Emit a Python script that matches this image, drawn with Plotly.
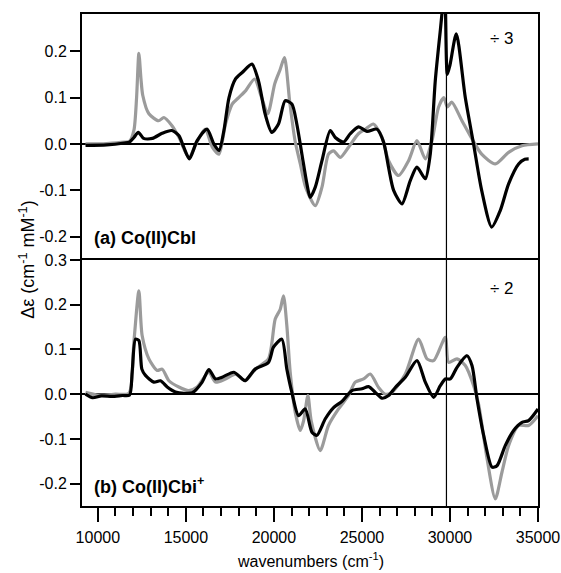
import plotly.graph_objects as go

# ---- data (wavenumber cm^-1, delta-epsilon) ----
a_grey_x = [9300, 9500, 10500, 11500, 11800, 12050, 12200, 12330, 12450, 12550, 12900, 13450, 13750, 14200, 14600, 15170, 15640, 16100, 16500, 16880, 17250, 17630, 18000, 18400, 18900, 19300, 19650, 20050, 20350, 20600, 20900, 21200, 21500, 21800, 22350, 22730, 23100, 23390, 23770, 24240, 24800, 25200, 25650, 26140, 26500, 27080, 27650, 28125, 28600, 28980, 29350, 29650, 29850, 30100, 30680, 31250, 31800, 32575, 33330, 34090, 35000]
a_grey_y = [0, 0, 0.001, 0.004, 0.006, 0.03, 0.1, 0.195, 0.14, 0.105, 0.065, 0.05, 0.057, 0.04, 0.015, -0.029, 0.005, 0.032, -0.007, -0.022, 0.043, 0.086, 0.1, 0.115, 0.14, 0.1, 0.065, 0.13, 0.16, 0.186, 0.09, 0.007, -0.043, -0.093, -0.133, -0.093, -0.022, -0.015, -0.029, -0.007, 0.022, 0.032, 0.043, 0.014, -0.035, -0.068, -0.036, 0.007, -0.032, 0.007, 0.079, 0.1, 0.08, 0.09, 0.05, 0.011, -0.022, -0.043, -0.018, -0.004, 0]

a_black_x = [9300, 10500, 11500, 11800, 12050, 12300, 12600, 13100, 13650, 14200, 14600, 14880, 15200, 15640, 16200, 16590, 16880, 17160, 17450, 17820, 18200, 18750, 19125, 19500, 19880, 20260, 20640, 21020, 21300, 21590, 21875, 22060, 22350, 22730, 23200, 23485, 23955, 24335, 24810, 25285, 25850, 26230, 26510, 26800, 27275, 27745, 28125, 28600, 28880, 29165, 29450, 29700, 29850, 30000, 30360, 30870, 31340, 31800, 32370, 32860, 33330, 33900, 34250, 34470]
a_black_y = [-0.003, -0.002, 0.002, 0.004, 0.014, 0.025, 0.012, 0.012, 0.023, 0.029, 0.018, -0.007, -0.032, 0.007, 0.032, 0.0, -0.014, 0.029, 0.1, 0.14, 0.154, 0.172, 0.136, 0.065, 0.025, 0.043, 0.093, 0.086, 0.043, -0.022, -0.086, -0.115, -0.093, -0.036, 0.029, 0.014, 0.004, 0.022, 0.037, 0.027, 0.032, 0.004, -0.05, -0.1, -0.129, -0.079, -0.05, -0.075, -0.022, 0.136, 0.244, 0.33, 0.15, 0.17, 0.237, 0.1, 0.0, -0.1, -0.179, -0.143, -0.086, -0.043, -0.033, -0.032]

b_grey_x = [9300, 10000, 11000, 11760, 12045, 12330, 12515, 12900, 13370, 13655, 14035, 14600, 15170, 15640, 16305, 16680, 17250, 17820, 18370, 18940, 19690, 20075, 20360, 20545, 20735, 20925, 21210, 21495, 21685, 21930, 22120, 22630, 23100, 23670, 24240, 24620, 25095, 25475, 25945, 26325, 26705, 27465, 28220, 28695, 29075, 29735, 29925, 30400, 30870, 31345, 31630, 32105, 32575, 32955, 33330, 33900, 34465, 35000]
b_grey_y = [0.004, -0.002, 0.0, 0.002, 0.116, 0.231, 0.131, 0.079, 0.053, 0.056, 0.03, 0.016, 0.008, 0.016, 0.049, 0.027, 0.034, 0.045, 0.03, 0.056, 0.079, 0.168, 0.19, 0.22, 0.153, 0.049, -0.04, -0.081, -0.06, -0.003, -0.06, -0.126, -0.07, -0.033, -0.003, 0.027, 0.034, 0.045, 0.015, 0.0, 0.004, 0.045, 0.123, 0.079, 0.075, 0.127, 0.071, 0.079, 0.064, 0.019, -0.023, -0.144, -0.234, -0.174, -0.115, -0.07, -0.07, -0.048]

b_black_x = [9300, 9700, 10200, 10800, 11400, 11800, 11950, 12140, 12330, 12500, 12705, 13180, 13560, 13940, 14410, 15360, 15925, 16305, 16680, 17060, 17725, 18200, 18370, 18940, 19690, 19975, 20450, 20735, 21020, 21400, 21780, 22160, 22445, 22920, 23390, 23865, 24430, 25000, 25380, 25760, 26140, 26515, 26895, 27465, 28125, 28600, 29075, 29450, 29735, 30020, 30400, 30965, 31250, 31535, 31915, 32390, 32670, 33140, 33615, 34090, 34465, 35000]
b_black_y = [0.0, -0.008, -0.004, -0.005, -0.003, -0.002, 0.05, 0.123, 0.12, 0.056, 0.042, 0.027, 0.03, 0.016, 0.005, 0.003, 0.027, 0.055, 0.034, 0.038, 0.049, 0.034, 0.03, 0.056, 0.071, 0.105, 0.123, 0.056, 0.004, -0.048, -0.033, -0.085, -0.092, -0.055, -0.03, -0.016, 0.008, 0.012, 0.017, 0.004, -0.009, -0.003, 0.015, 0.038, 0.075, 0.027, -0.007, 0.019, 0.034, 0.034, 0.06, 0.086, 0.064, -0.01, -0.092, -0.163, -0.16, -0.115, -0.081, -0.063, -0.059, -0.033]

x_ticks = [10000, 15000, 20000, 25000, 30000, 35000]
x_labels = ["10000", "15000", "20000", "25000", "30000", "35000"]
a_yticks = [-0.2, -0.1, 0.0, 0.1, 0.2]
a_ylabels = ["-0.2", "-0.1", "0.0", "0.1", "0.2"]
b_yticks = [-0.2, -0.1, 0.0, 0.1, 0.2, 0.3]
b_ylabels = ["-0.2", "-0.1", "0.0", "0.1", "0.2", "0.3"]
vline_x = 29800

GREY = "#9b9b9b"
BLACK = "#000000"
FONT = "Liberation Sans, Arial, sans-serif"
LINE = dict(width=3.2, shape="spline", smoothing=0.7)

fig = go.Figure()
fig.add_trace(go.Scatter(x=a_grey_x, y=a_grey_y, mode="lines", line=dict(color=GREY, **LINE), xaxis="x2", yaxis="y2"))
fig.add_trace(go.Scatter(x=a_black_x, y=a_black_y, mode="lines", line=dict(color=BLACK, **LINE), xaxis="x2", yaxis="y2"))
fig.add_trace(go.Scatter(x=b_grey_x, y=b_grey_y, mode="lines", line=dict(color=GREY, **LINE), xaxis="x", yaxis="y"))
fig.add_trace(go.Scatter(x=b_black_x, y=b_black_y, mode="lines", line=dict(color=BLACK, **LINE), xaxis="x", yaxis="y"))

axis_common = dict(showgrid=False, zeroline=True, zerolinecolor="black", zerolinewidth=1.5,
                   showline=True, linecolor="black", linewidth=2, mirror=True, automargin=False,
                   ticks="outside", ticklen=10, tickwidth=2, tickcolor="black", tickfont=dict(size=16))

fig.update_layout(
    width=561, height=573,
    margin=dict(l=82, r=23, t=14, b=67),
    paper_bgcolor="white", plot_bgcolor="white",
    showlegend=False,
    font=dict(family=FONT, size=16, color="black"),
    xaxis=dict(domain=[0, 1], range=[9100, 35000], anchor="y", tickvals=x_ticks, ticktext=x_labels,
               ticks="outside", ticklen=14, tickwidth=2, tickcolor="black",
               minor=dict(dtick=1000, tick0=0, ticks="outside", ticklen=8, tickwidth=2, tickcolor="black"),
               showgrid=False, zeroline=False, showline=True, linecolor="black", linewidth=2, mirror=True,
               tickfont=dict(size=16), ticklabelstandoff=2, automargin=False),
    xaxis2=dict(domain=[0, 1], range=[9100, 35000], anchor="y2", matches="x", side="top",
                showticklabels=False, ticks="", showgrid=False, zeroline=False, automargin=False,
                showline=True, linecolor="black", linewidth=2, mirror=False),
    yaxis=dict(domain=[0, 0.5], range=[-0.25, 0.3], anchor="x", tickvals=b_yticks, ticktext=b_ylabels, **axis_common),
    yaxis2=dict(domain=[0.5, 1], range=[-0.25, 0.28], anchor="x2", tickvals=a_yticks, ticktext=a_ylabels, **axis_common),
)

fig.add_shape(type="line", xref="x", yref="paper", x0=vline_x, x1=vline_x, y0=0, y1=1,
              line=dict(color="black", width=1.2))

fig.add_annotation(text="<b>(a) Co(II)Cbl</b>", xref="paper", yref="paper", x=0.022, y=0.545,
                   xanchor="left", yanchor="middle", showarrow=False, font=dict(size=18))
fig.add_annotation(text="<b>(b) Co(II)Cbi<sup>+</sup></b>", xref="paper", yref="paper", x=0.022, y=0.042,
                   xanchor="left", yanchor="middle", showarrow=False, font=dict(size=18))
fig.add_annotation(text="÷ 3", xref="paper", yref="paper", x=0.92, y=0.951,
                   xanchor="center", yanchor="middle", showarrow=False, font=dict(size=17))
fig.add_annotation(text="÷ 2", xref="paper", yref="paper", x=0.92, y=0.443,
                   xanchor="center", yanchor="middle", showarrow=False, font=dict(size=17))
fig.add_annotation(text="Δε (cm<sup>-1</sup> mM<sup>-1</sup>)", xref="paper", yref="paper",
                   x=-0.121, y=0.5, xanchor="center", yanchor="middle", textangle=-90,
                   showarrow=False, font=dict(size=18))
fig.add_annotation(text="wavenumbers (cm<sup>-1</sup>)", xref="paper", yref="paper",
                   x=0.5, y=-0.11, xanchor="center", yanchor="middle",
                   showarrow=False, font=dict(size=16))

fig.write_html("out.html")
